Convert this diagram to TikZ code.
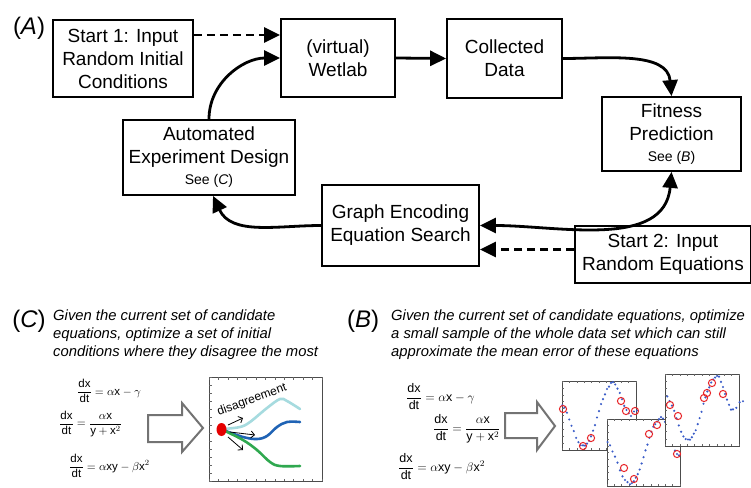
\RequirePackage{fix-cm}
\documentclass[tikz,border=0pt]{standalone}
\usepackage{amsmath}
\usepackage{fontspec}
\setmainfont{Liberation Sans}
\usetikzlibrary{arrows.meta,positioning,calc}

\definecolor{curvecyan}{HTML}{A6DBDF}
\definecolor{curveblue}{HTML}{1F63B5}
\definecolor{curvegreen}{HTML}{2FA84F}
\definecolor{dotblue}{HTML}{3A5CC8}
\definecolor{ringred}{HTML}{E8262A}

\newcommand{\seefont}{\fontsize{14}{16}\selectfont}

\begin{document}
\begin{tikzpicture}[
    x=1pt, y=-1pt,
    box/.style={rectangle, draw, line width=1.8pt, align=center, inner sep=0pt, font=\fontsize{19}{23}\selectfont},
    flow/.style={-{Triangle[length=16pt,width=15pt]}, line width=2.8pt},
    flowboth/.style={{Triangle[length=16pt,width=15pt]}-{Triangle[length=16pt,width=15pt]}, line width=2.8pt},
    startflow/.style={flow, dash pattern=on 8pt off 5pt},
    panel/.style={font=\fontsize{24}{26}\selectfont, inner sep=0pt},
    note/.style={anchor=north west, align=left, inner sep=0pt, font=\fontsize{14.8}{17.6}\selectfont\itshape},
    eqn/.style={anchor=west, inner sep=0pt},
    hollow/.style={draw=black!55, line width=2pt, fill=white, line join=miter},
    frame/.style={draw=black!70, line width=0.8pt, fill=white},
    tick/.style={draw=black!60, line width=0.5pt},
    ring/.style={draw=ringred, line width=1pt},
    dot/.style={fill=dotblue}
]
    \useasboundingbox (0,0) rectangle (751,487);
    \clip (0,0) rectangle (751,487);
    \pgfmathsetseed{7}

    % (A) loop
    \node[panel] (lblA) at (29,28) {(\textit{A})};
    \node[box, minimum width=140, minimum height=77] (start1) at (123,58.5)
        {Start 1: Input\\Random Initial\\Conditions};
    \node[box, minimum width=114, minimum height=78] (wetlab) at (338,58)
        {(virtual)\\Wetlab};
    \node[box, minimum width=115, minimum height=79] (collected) at (504.5,58.5)
        {Collected\\Data};
    \node[box, minimum width=139, minimum height=74] (fitness) at (671.5,134)
        {Fitness\\Prediction\\[-2pt]{\seefont See (\textit{B})}};
    \node[box, minimum width=172, minimum height=75] (design) at (209,157.5)
        {Automated\\Experiment Design\\[-2pt]{\seefont See (\textit{C})}};
    \node[box, minimum width=157, minimum height=81] (search) at (400.5,225.5)
        {Graph Encoding\\Equation Search};
    \node[box, minimum width=176, minimum height=57] (start2) at (663,254.5)
        {Start 2: Input\\Random Equations};

    % Arrows
    \draw[startflow] ([yshift=23.5pt]start1.east) -- ([yshift=23pt]wetlab.west);
    \draw[flow] (wetlab.east) -- (collected.west);
    \draw[flow] (collected.east) to[out=0, in=95] (fitness.north);
    \draw[flowboth] (search.east) to[out=0, in=-95] (fitness.south);
    \draw[flow] (search.west) to[out=180, in=-65] ([xshift=4pt]design.south);
    \draw[flow] (design.north) to[out=90, in=180] (wetlab.west);
    \draw[startflow] ([yshift=5pt]start2.west) -- ([yshift=-24pt]search.east);

    % (C) panel
    \node[panel] (lblC) at (29,321) {(\textit{C})};
    \node[note] (textC) at (53,310)
        {Given the current set of candidate\\equations, optimize a set of initial\\conditions where they disagree the most};
    \begin{scope}[font=\fontsize{11.5}{13}\selectfont]
        \node[eqn] (eqC1) at (77,391) {$\dfrac{\text{dx}}{\text{dt}}=\alpha\text{x}-\gamma$};
        \node[eqn] (eqC2) at (59,424) {$\dfrac{\text{dx}}{\text{dt}}=\dfrac{\alpha\text{x}}{\text{y}+\text{x}^2}$};
        \node[eqn] (eqC3) at (69,466) {$\dfrac{\text{dx}}{\text{dt}}=\alpha\text{xy}-\beta\text{x}^2$};
    \end{scope}
    \draw[hollow] (148,415) -- (182,415) -- (182,403) -- (203,428) -- (182,452) -- (182,442) -- (148,442) -- cycle;

    % disagreement plot
    \draw[frame] (209,377) rectangle (322,481);
    \foreach \t in {0,...,12} {
        \draw[tick] ({209+9.4*\t},481) -- ++(0,-2.5);
        \draw[tick] ({209+9.4*\t},377) -- ++(0,2.5);
    }
    \foreach \t in {0,...,13} \draw[tick] (209,{377+8*\t}) -- ++(2.5,0);
    \draw[curvecyan, line width=2.6pt, line cap=round] plot[smooth, tension=0.6]
        coordinates {(223,429) (240,427) (250,422) (267,408) (280,399) (287,401) (300,409)};
    \draw[curveblue, line width=2.6pt, line cap=round] plot[smooth, tension=0.6]
        coordinates {(223,430) (243,437) (257,439) (267,436) (277,427) (287,422) (300,422)};
    \draw[curvegreen, line width=2.6pt, line cap=round] plot[smooth, tension=0.6]
        coordinates {(223,430) (243,440) (257,450) (270,462) (280,466) (300,466)};
    \fill[red!90!black] (221.5,429.5) ellipse [x radius=5, y radius=6.5];
    \draw[-{Straight Barb[length=3.5pt]}, line width=0.8pt] (228,425) -- (243,418);
    \draw[-{Straight Barb[length=3.5pt]}, line width=0.8pt] (230,432) -- (255,435);
    \draw[-{Straight Barb[length=3.5pt]}, line width=0.8pt] (228,437) -- (243,450);
    \node[rotate=20, inner sep=0pt, font=\fontsize{12}{14}\selectfont] (gap) at (252,400) {disagreement};

    % (B) panel
    \node[panel] (lblB) at (363,321) {(\textit{B})};
    \node[note] (textB) at (391,310)
        {Given the current set of candidate equations, optimize\\a small sample of the whole data set which can still\\approximate the mean error of these equations};
    \begin{scope}[font=\fontsize{12.5}{14}\selectfont]
        \node[eqn] (eqB1) at (406,397) {$\dfrac{\text{dx}}{\text{dt}}=\alpha\text{x}-\gamma$};
        \node[eqn] (eqB2) at (433,429) {$\dfrac{\text{dx}}{\text{dt}}=\dfrac{\alpha\text{x}}{\text{y}+\text{x}^2}$};
        \node[eqn] (eqB3) at (398,467) {$\dfrac{\text{dx}}{\text{dt}}=\alpha\text{xy}-\beta\text{x}^2$};
    \end{scope}
    \draw[hollow] (505,413) -- (537,413) -- (537,402) -- (555,426) -- (537,450) -- (537,438) -- (505,438) -- cycle;

    % sample plots
    \draw[frame] (562,381) rectangle (636,450);
    \foreach \t in {0,...,10} {
        \draw[tick] ({562+7.4*\t},450) -- ++(0,-2);
        \draw[tick] ({562+7.4*\t},381) -- ++(0,2);
    }
    \foreach \t in {0,...,9} \draw[tick] (562,{381+6.9*\t}) -- ++(2,0);
    \foreach \xa/\ya/\xb/\yb/\n in {560/404/583/446/10, 583/446/613/383/15, 613/383/631/415/8, 631/415/637/410/2}
        \foreach \k in {1,...,\n}
            \fill[dot] ({\xa+(\xb-\xa)*\k/\n}, {\ya+(\yb-\ya)*(1-cos(180*\k/\n))/2+rand}) circle (1.2);
    \foreach \p in {(563,409), (583,446), (591,438), (621,401), (626,411), (635,411)}
        \draw[ring] \p circle (3.6);

    \draw[frame] (607,419) rectangle (680,486);
    \foreach \t in {0,...,10} {
        \draw[tick] ({607+7.3*\t},486) -- ++(0,-2);
        \draw[tick] ({607+7.3*\t},419) -- ++(0,2);
    }
    \foreach \t in {0,...,9} \draw[tick] (607,{419+6.7*\t}) -- ++(2,0);
    \foreach \xa/\ya/\xb/\yb/\n in {605/442/630/484/10, 630/484/661/418/16, 661/418/679/455/9}
        \foreach \k in {1,...,\n}
            \fill[dot] ({\xa+(\xb-\xa)*\k/\n}, {\ya+(\yb-\ya)*(1-cos(180*\k/\n))/2+rand}) circle (1.2);
    \foreach \p in {(624,468), (634,479), (649,434), (657,425), (677,454)}
        \draw[ring] \p circle (3.6);

    \draw[frame] (665,374) rectangle (739,446);
    \foreach \t in {0,...,10} {
        \draw[tick] ({665+7.4*\t},446) -- ++(0,-2);
        \draw[tick] ({665+7.4*\t},374) -- ++(0,2);
    }
    \foreach \t in {0,...,9} \draw[tick] (665,{374+7.2*\t}) -- ++(2,0);
    \foreach \xa/\ya/\xb/\yb/\n in {665/396/688/440/10, 688/440/717/376/15, 717/376/733/410/8, 733/410/743/401/3}
        \foreach \k in {1,...,\n}
            \fill[dot] ({\xa+(\xb-\xa)*\k/\n}, {\ya+(\yb-\ya)*(1-cos(180*\k/\n))/2+rand}) circle (1.2);
    \foreach \p in {(670,405), (678,416), (704,398), (707,393), (712,383), (723,394)}
        \draw[ring] \p circle (3.6);
\end{tikzpicture}
\end{document}
